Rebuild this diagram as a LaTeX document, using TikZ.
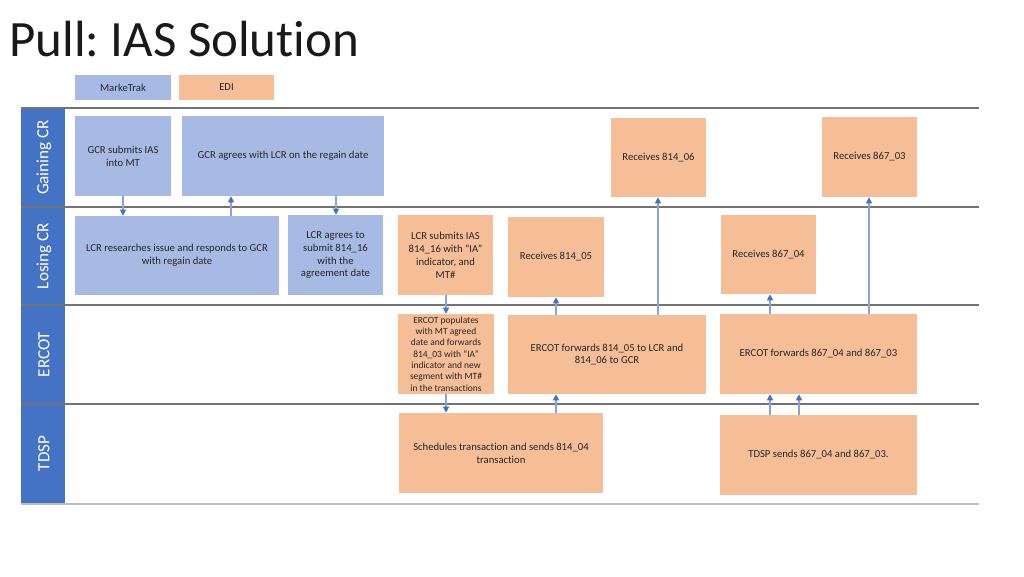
\documentclass[tikz,border=0pt]{standalone}
\usepackage{fontspec}
\setmainfont{Carlito}[Ligatures=NoCommon]
\usetikzlibrary{arrows.meta}
\frenchspacing
\definecolor{mtblue}{HTML}{A7BAE3}
\definecolor{ediorange}{HTML}{F5BE97}
\definecolor{lanebar}{HTML}{4472C4}
\definecolor{arrline}{HTML}{86A3DA}
\definecolor{arrhead}{HTML}{4472C4}
\definecolor{txt}{HTML}{262626}
\newcommand\mybox[7]{\node[#1, minimum width={(#4-#2)*0.75pt}, minimum height={(#5-#3)*0.75pt}] (#6) at ({(#2+#4)/2},{(#3+#5)/2}) {#7};}
\begin{document}
\begin{tikzpicture}[x=0.75pt,y=-0.75pt,
  boxbase/.style={inner sep=0pt, align=center, text=txt, font=\fontsize{8}{9.7}\selectfont},
  mt/.style={boxbase, fill=mtblue},
  edi/.style={boxbase, fill=ediorange},
  small/.style={font=\fontsize{7.1}{8.5}\selectfont},
  lanelbl/.style={rotate=90, text=white, font=\fontsize{12.8}{13}\selectfont},
  sep/.style={draw=black!55, line width=0.8pt},
  arr/.style={draw=arrline, line width=0.8pt, -{Triangle[width=4.5pt,length=4.5pt,color=arrhead]}}]
\useasboundingbox (0,0) rectangle (1024,576);
\fill[white] (0,0) rectangle (1024,576);
% title
\node[anchor=base west, inner sep=0pt, font=\fontsize{38.2}{40}\selectfont, text=black!90] (title) at (9,56) {Pull: IAS Solution};
% legend
\mybox{mt}{75}{75}{171}{100}{legmt}{MarkeTrak}
\mybox{edi}{179}{75}{274}{100}{legedi}{EDI}
% lane bar
\fill[lanebar] (21,108) rectangle (65,503);
\node[lanelbl] (lgain) at (44,157.5) {Gaining CR};
\node[lanelbl] (llose) at (44,256) {Losing CR};
\node[lanelbl] (lerc) at (44,354.5) {ERCOT};
\node[lanelbl] (ltdsp) at (44,453.5) {TDSP};
% separators
\draw[sep] (21,108) -- (979,108);
\draw[sep] (21,207) -- (979,207);
\draw[sep] (21,305) -- (979,305);
\draw[sep] (21,404) -- (979,404);
\draw[draw=black!25, line width=1.5pt] (21,503.5) -- (979,503.5);
% Gaining CR
\mybox{mt}{75}{116}{171}{196}{gsub}{GCR submits IAS\\into MT}
\mybox{mt}{182}{116}{384}{196}{gagree}{GCR agrees with LCR on the regain date}
\mybox{edi}{611}{118}{706}{197}{r81406}{Receives 814\_06}
\mybox{edi}{822}{117}{917}{197}{r86703}{Receives 867\_03}
% Losing CR
\mybox{mt}{75}{216}{279}{295}{lres}{LCR researches issue and responds to GCR\\with regain date}
\mybox{mt}{288}{215}{383}{295}{lagree}{LCR agrees to\\submit 814\_16\\with the\\agreement date}
\mybox{edi}{398}{215}{493}{295}{lsub}{LCR submits IAS\\814\_16 with “IA”\\indicator, and\\MT\#}
\mybox{edi}{508}{217}{604}{297}{r81405}{Receives 814\_05}
\mybox{edi}{721}{215}{816}{294}{r86704}{Receives 867\_04}
% ERCOT
\mybox{edi,small}{398}{314}{494}{394}{epop}{ERCOT populates\\with MT agreed\\date and forwards\\814\_03 with “IA”\\indicator and new\\segment with MT\#\\in the transactions}
\mybox{edi}{508}{315}{706}{394}{efw814}{ERCOT forwards 814\_05 to LCR and\\814\_06 to GCR}
\mybox{edi}{720}{314}{917}{394}{efw867}{ERCOT forwards 867\_04 and 867\_03}
% TDSP
\mybox{edi}{399}{413}{603}{493}{tsched}{Schedules transaction and sends 814\_04\\transaction}
\mybox{edi}{720}{415}{917}{495}{tsend}{TDSP sends 867\_04 and 867\_03.}
% x positions for connectors
\coordinate (xa) at (123,0);
\coordinate (xb) at (231,0);
\coordinate (xc) at (336,0);
\coordinate (xd) at (446,0);
\coordinate (xe) at (556,0);
\coordinate (xf) at (658,0);
\coordinate (xg) at (770,0);
\coordinate (xh) at (799,0);
\coordinate (xi) at (869,0);
% connectors
\draw[arr] (gsub.south -| xa) -- (lres.north -| xa);
\draw[arr] (lres.north -| xb) -- (gagree.south -| xb);
\draw[arr] (gagree.south -| xc) -- (lagree.north -| xc);
\draw[arr] (lsub.south -| xd) -- (epop.north -| xd);
\draw[arr] (epop.south -| xd) -- (tsched.north -| xd);
\draw[arr] (tsched.north -| xe) -- (efw814.south -| xe);
\draw[arr] (efw814.north -| xe) -- (r81405.south -| xe);
\draw[arr] (efw814.north -| xf) -- (r81406.south -| xf);
\draw[arr] (tsend.north -| xg) -- (efw867.south -| xg);
\draw[arr] (tsend.north -| xh) -- (efw867.south -| xh);
\draw[arr] (efw867.north -| xg) -- (r86704.south -| xg);
\draw[arr] (efw867.north -| xi) -- (r86703.south -| xi);
\end{tikzpicture}
\end{document}
